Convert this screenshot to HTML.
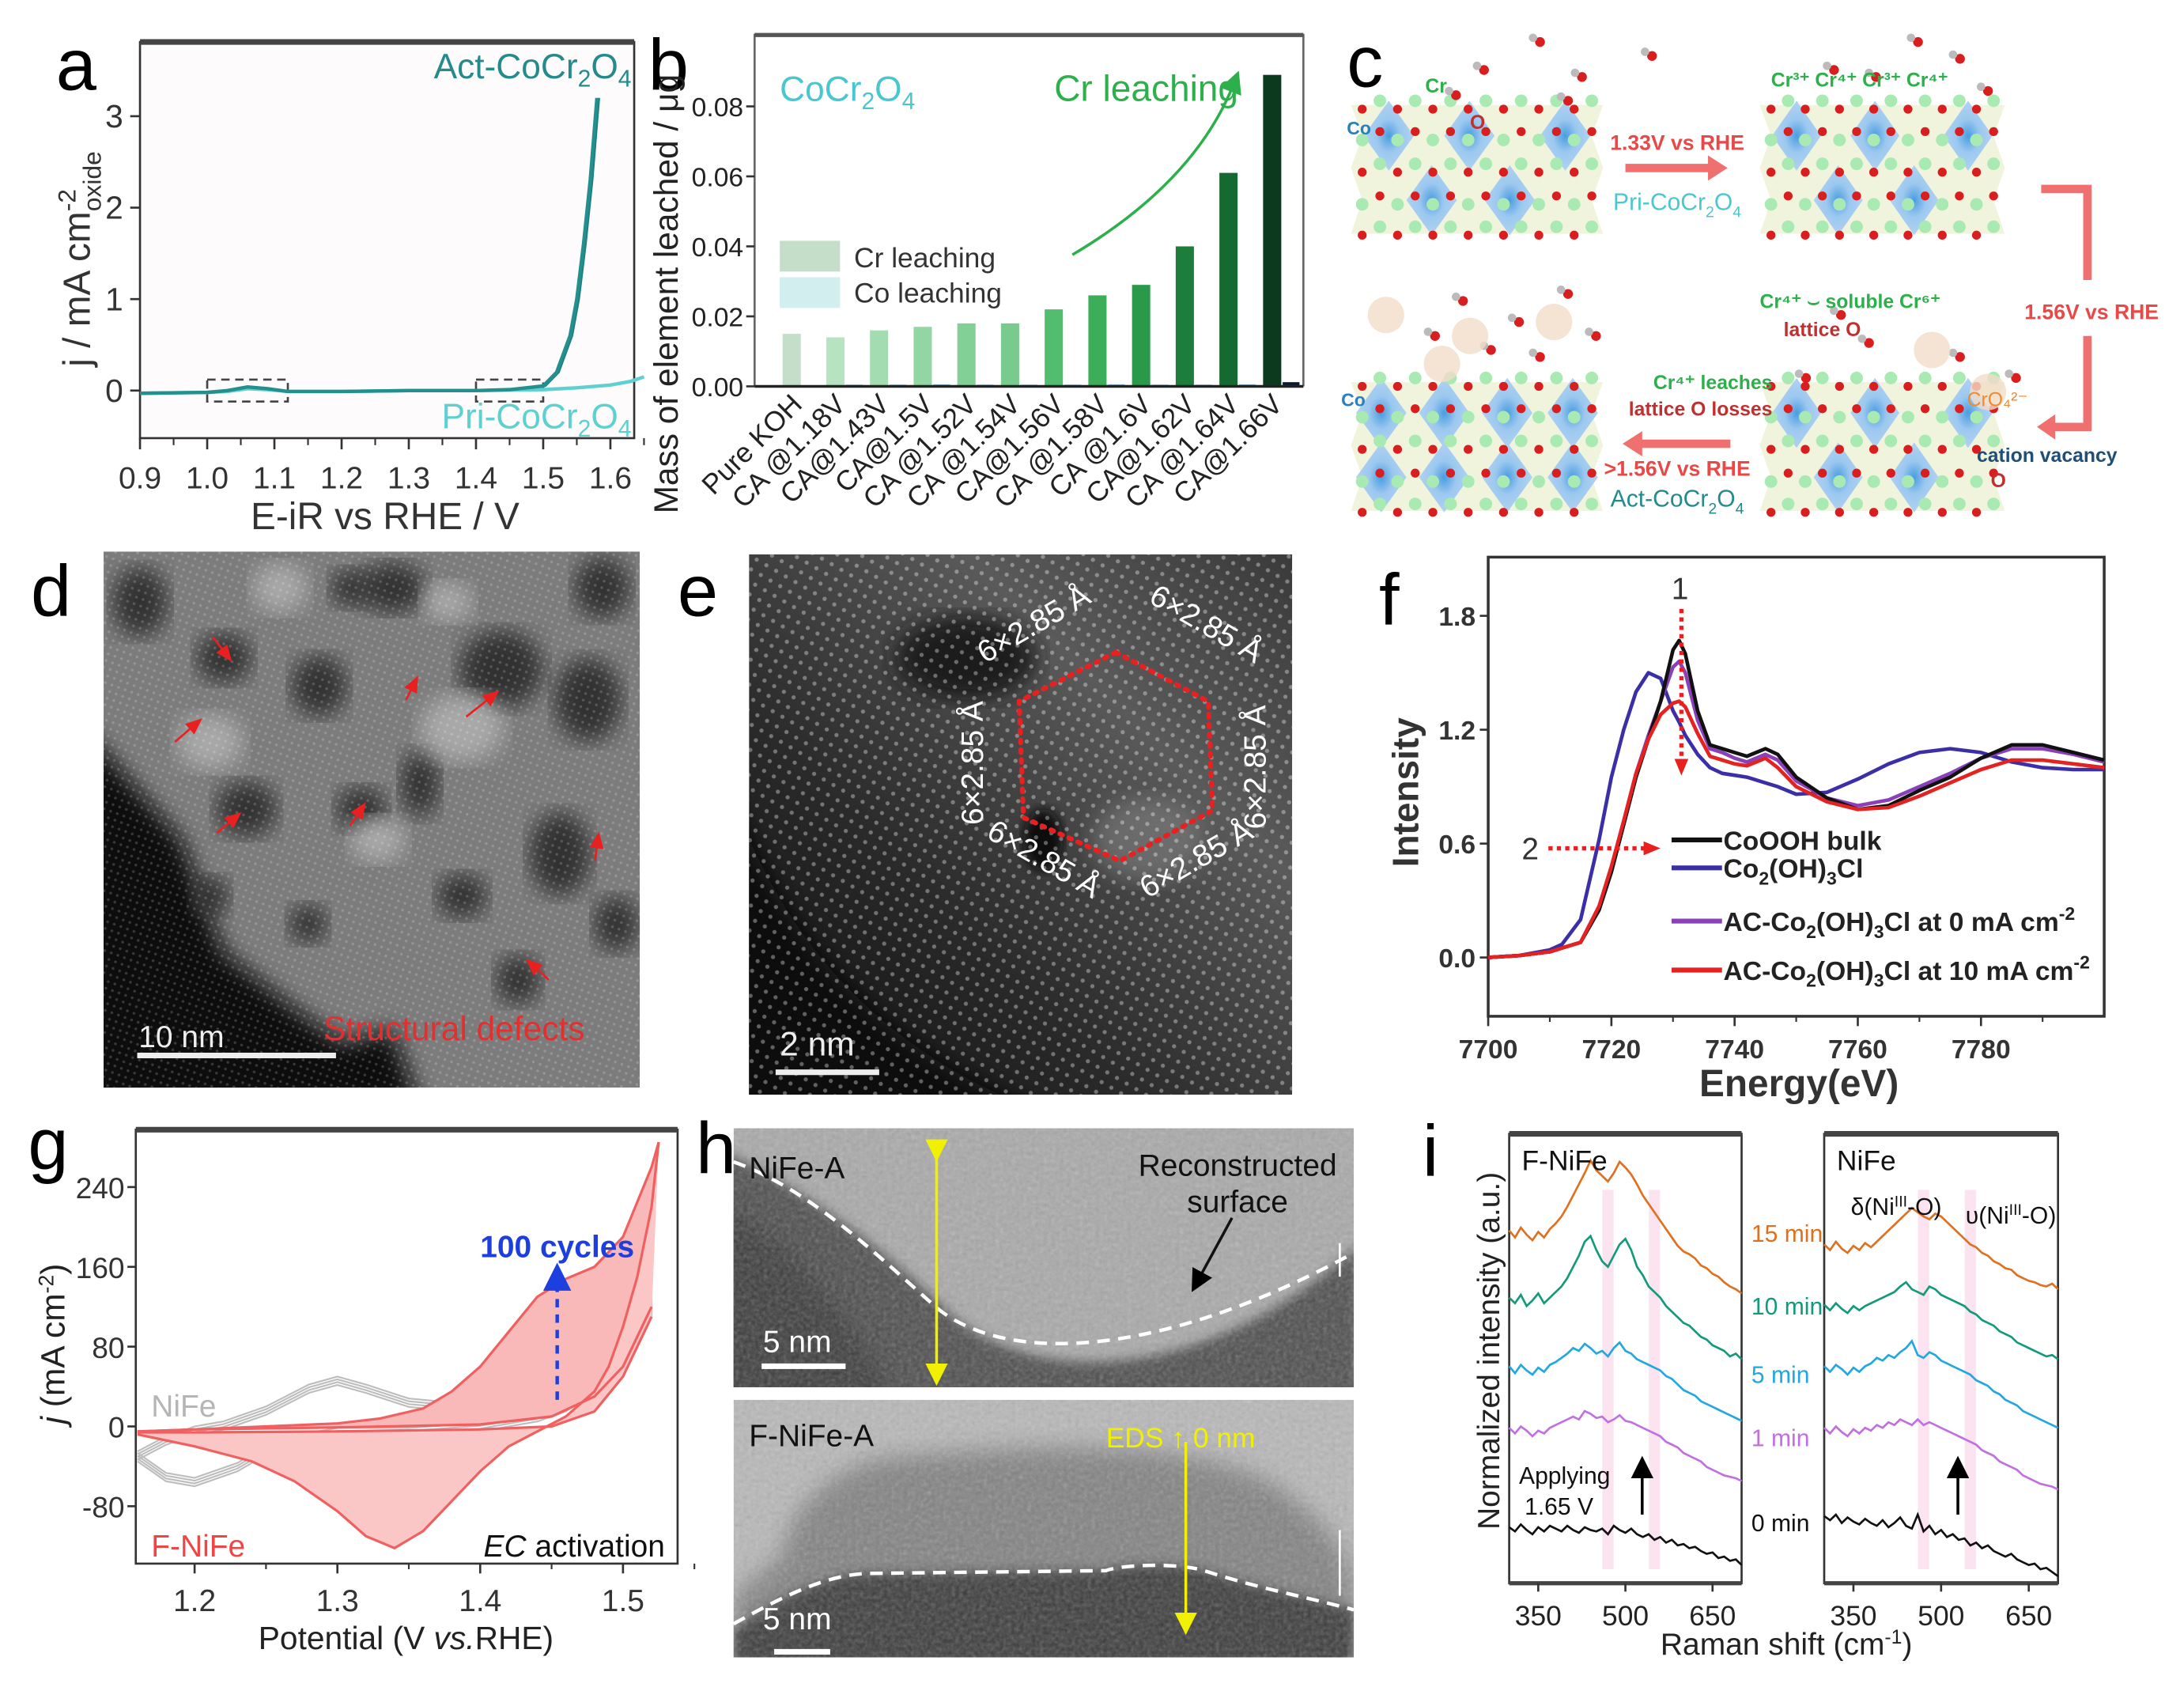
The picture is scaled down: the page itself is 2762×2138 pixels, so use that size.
<!DOCTYPE html>
<html><head><meta charset="utf-8">
<style>
html,body{margin:0;padding:0;background:#fff;}
svg{display:block;font-family:"Liberation Sans",Arial,sans-serif;}
</style></head>
<body>
<svg id="fig" xmlns="http://www.w3.org/2000/svg" width="2762" height="2138" viewBox="0 0 1560 1208" preserveAspectRatio="none">
<defs>
  <pattern id="dots" width="8" height="8" patternUnits="userSpaceOnUse" patternTransform="rotate(30)">
    <circle cx="4" cy="4" r="1.5" fill="#fff" fill-opacity="0.35"/>
  </pattern>
  <pattern id="dotsD" width="5" height="5" patternUnits="userSpaceOnUse" patternTransform="rotate(20)">
    <circle cx="2.5" cy="2.5" r="1.0" fill="#fff" fill-opacity="0.18"/>
  </pattern>
  <filter id="blur8"><feGaussianBlur stdDeviation="8"/></filter>
  <filter id="blur4"><feGaussianBlur stdDeviation="4"/></filter>
  <filter id="noise"><feTurbulence type="fractalNoise" baseFrequency="0.35" numOctaves="2" seed="3"/><feColorMatrix type="saturate" values="0"/><feComponentTransfer><feFuncA type="table" tableValues="0 0.35"/></feComponentTransfer></filter>
  <linearGradient id="eGrad" x1="0" y1="1" x2="1" y2="0">
    <stop offset="0" stop-color="#0c0c0c"/><stop offset="0.35" stop-color="#2a2a2a"/><stop offset="0.7" stop-color="#5a5a5a"/><stop offset="1" stop-color="#3a3a3a"/>
  </linearGradient>
  <radialGradient id="diaG" cx="0.5" cy="0.5" r="0.6">
    <stop offset="0" stop-color="#4a9de0"/><stop offset="0.4" stop-color="#9cc8ef"/><stop offset="1" stop-color="#b8d6f2"/>
  </radialGradient>
  <marker id="arrRed" markerUnits="userSpaceOnUse" markerWidth="12" markerHeight="12" refX="6" refY="6" orient="auto"><path d="M0,1 L12,6 L0,11 z" fill="#e82020"/></marker>
  <marker id="arrBlue" markerWidth="8" markerHeight="8" refX="4" refY="4" orient="auto"><path d="M0,0 L8,4 L0,8 z" fill="#1d3fe0"/></marker>
  <marker id="arrBlack" markerWidth="8" markerHeight="8" refX="4" refY="4" orient="auto"><path d="M0,0 L8,4 L0,8 z" fill="#000"/></marker>
  <marker id="arrYel" markerWidth="8" markerHeight="8" refX="4" refY="4" orient="auto"><path d="M0,0 L8,4 L0,8 z" fill="#f0f000"/></marker>
  <marker id="arrGreen" markerWidth="8" markerHeight="8" refX="4" refY="4" orient="auto"><path d="M0,0 L8,4 L0,8 z" fill="#2db04b"/></marker>
</defs>

<text x="40" y="64" font-size="52">a</text>
<text x="463" y="64" font-size="52">b</text>
<text x="962" y="62" font-size="52">c</text>
<text x="22" y="440" font-size="52">d</text>
<text x="484" y="440" font-size="52">e</text>
<text x="985" y="446" font-size="52">f</text>
<text x="20" y="835" font-size="52">g</text>
<text x="497" y="838" font-size="52">h</text>
<text x="1016" y="840" font-size="52">i</text>

<g id="pa"></g>
<g id="pb"></g>
<g id="pc"></g>
<g id="pd"></g>
<g id="pe"></g>
<g id="pf"></g>
<g id="pg"></g>
<g id="ph"></g>
<g id="pi"></g>
</svg>

<script>
// ---------- Panel a data ----------
const aActX = [0.90,1.00,1.03,1.06,1.09,1.12,1.20,1.30,1.40,1.45,1.50,1.52,1.54,1.55,1.56,1.57,1.58];
const aActY = [-0.03,-0.02,0.00,0.04,0.02,-0.01,-0.01,0.00,0.00,0.01,0.05,0.20,0.60,1.00,1.60,2.30,3.20];
const aPriX = [0.90,1.00,1.03,1.06,1.09,1.12,1.20,1.30,1.40,1.50,1.55,1.60,1.63,1.65];
const aPriY = [-0.03,-0.02,-0.01,0.02,0.01,-0.01,-0.01,0.00,0.00,0.01,0.03,0.06,0.10,0.15];
const aXTicks = [0.9,1.0,1.1,1.2,1.3,1.4,1.5,1.6];
const aYTicks = [0,1,2,3];
// ---------- Panel b data ----------
const bCats = ["Pure KOH","CA @1.18V","CA@1.43V","CA@1.5V","CA @1.52V","CA @1.54V","CA@1.56V","CA @1.58V","CA @1.6V","CA@1.62V","CA @1.64V","CA@1.66V"];
const bCr = [0.015,0.014,0.016,0.017,0.018,0.018,0.022,0.026,0.029,0.040,0.061,0.089];
const bCo = [0.0003,0.0005,0.0005,0.0006,0.0005,0.0005,0.0005,0.0006,0.0005,0.0005,0.0006,0.0012];
const bYTicks = [0,0.02,0.04,0.06,0.08];
const bColors = ['#c5dec9','#b6e3c0','#a2dcb0','#92d6a3','#82d095','#78cb8c','#52bd6e','#3cae5a','#2a9a4a','#1d7d3a','#156a31','#0b3a1e'];
// ---------- Panel f data ----------
const fX = [7700,7705,7710,7712,7715,7718,7720,7722,7724,7726,7728,7730,7731,7732,7734,7736,7738,7740,7742,7745,7747,7750,7755,7760,7765,7770,7775,7780,7785,7790,7795,7800];
const fCoOOH = [0,0.01,0.03,0.05,0.08,0.25,0.45,0.70,0.95,1.15,1.35,1.62,1.67,1.60,1.30,1.12,1.10,1.08,1.06,1.10,1.07,0.95,0.84,0.78,0.80,0.88,0.95,1.05,1.12,1.12,1.08,1.04];
const fCo2 = [0,0.01,0.04,0.07,0.20,0.62,0.95,1.20,1.40,1.50,1.47,1.30,1.24,1.17,1.07,1.00,0.97,0.96,0.95,0.92,0.90,0.86,0.87,0.94,1.02,1.08,1.10,1.08,1.03,1.00,0.99,0.99];
const fAC0 = [0,0.01,0.03,0.05,0.08,0.27,0.47,0.72,0.97,1.17,1.35,1.53,1.56,1.50,1.25,1.10,1.08,1.05,1.03,1.07,1.04,0.93,0.84,0.80,0.83,0.90,0.97,1.05,1.10,1.10,1.07,1.03];
const fAC10 = [0,0.01,0.03,0.05,0.08,0.27,0.48,0.72,0.97,1.15,1.28,1.34,1.35,1.32,1.18,1.06,1.04,1.02,1.01,1.05,1.00,0.90,0.82,0.78,0.79,0.85,0.92,0.99,1.04,1.04,1.02,1.00];
const fXTicks = [7700,7720,7740,7760,7780];
const fYTicks = [0.0,0.6,1.2,1.8];
// ---------- Panel g data ----------
const gNiAX = [1.16,1.18,1.20,1.22,1.25,1.28,1.30,1.32,1.35,1.38,1.40,1.42,1.45,1.48,1.50,1.52];
const gNiAY = [-25,-10,0,5,20,42,50,42,28,24,22,24,32,55,85,125];
const gNiCX = [1.52,1.50,1.48,1.46,1.44,1.40,1.35,1.30,1.26,1.23,1.20,1.18,1.16];
const gNiCY = [110,70,35,15,5,-5,-10,-10,-20,-45,-60,-55,-35];
const gLastAX = [1.16,1.20,1.25,1.30,1.33,1.36,1.38,1.40,1.42,1.44,1.46,1.48,1.50,1.51,1.52,1.525];
const gLastAY = [-5,-3,0,3,8,18,35,60,95,130,148,160,190,225,260,285];
const gLastCX = [1.525,1.52,1.51,1.50,1.49,1.48,1.46,1.44,1.42,1.40,1.38,1.36,1.34,1.32,1.30,1.27,1.24,1.20,1.16];
const gLastCY = [285,220,150,100,60,35,10,-5,-20,-45,-75,-105,-122,-110,-85,-55,-35,-20,-8];
const gFirstAX = [1.16,1.20,1.30,1.40,1.45,1.48,1.50,1.52];
const gFirstAY = [-5,-3,-1,2,10,30,60,120];
const gFirstCX = [1.52,1.50,1.48,1.45,1.40,1.30,1.20,1.16];
const gFirstCY = [110,50,15,0,-3,-5,-6,-6];
const gXTicks = [1.2,1.3,1.4,1.5];
const gYTicks = [240,160,80,0,-80];
// ---------- Panel i data ----------
const iShift = [300,310,320,330,340,350,360,370,380,390,400,410,420,430,440,450,460,470,480,490,500,510,520,530,540,550,560,570,580,590,600,610,620,630,640,650,660,670,680,690,700];
const iF15 = [45,40,47,42,38,44,40,46,50,55,62,70,78,86,95,88,84,80,86,94,90,85,78,70,64,58,52,46,40,34,30,28,25,20,18,14,12,8,5,3,0];
const iF10 = [44,40,46,38,42,47,40,44,48,52,58,66,74,84,88,78,70,66,74,82,86,78,66,60,52,48,44,38,34,30,26,24,20,16,14,10,8,6,2,4,0];
const iF5 = [39,34,40,36,33,38,35,40,42,45,48,52,50,55,52,48,50,46,52,56,50,48,44,42,40,38,36,32,30,26,22,20,18,14,12,10,8,6,4,2,0];
const iF1 = [38,34,39,36,32,36,34,38,40,42,44,46,44,50,48,45,46,42,44,47,43,42,40,38,36,34,32,28,26,24,20,18,16,14,10,8,6,4,3,2,0];
const iF0 = [27,24,29,25,22,27,24,28,26,24,28,25,23,27,25,24,26,22,28,25,23,26,22,20,22,18,20,16,18,14,15,12,13,10,8,9,5,6,3,4,0];
const iN15 = [32,28,34,29,26,31,28,33,30,34,38,42,46,50,54,58,55,52,50,54,52,48,44,40,36,32,30,26,24,20,18,15,14,10,8,6,5,3,2,4,0];
const iN10 = [39,35,40,36,33,38,35,38,40,42,44,46,48,52,55,50,48,46,52,50,46,44,42,40,38,34,32,28,26,24,20,18,16,12,10,8,6,4,2,3,0];
const iN5 = [44,40,45,42,38,43,40,44,46,50,48,52,50,54,57,62,52,50,54,52,48,46,44,42,40,38,34,32,30,26,24,20,18,16,12,10,8,6,4,2,0];
const iN1 = [44,40,45,41,38,43,40,44,42,46,44,48,46,50,48,46,50,46,48,46,44,42,40,38,36,34,32,28,26,24,20,18,16,14,10,8,6,4,3,2,0];
const iN0 = [43,40,44,38,42,39,37,41,38,36,40,35,38,42,36,34,44,32,36,30,33,28,30,26,27,22,24,20,22,18,16,14,16,12,10,8,9,5,6,3,0];
const iTimes = ["15 min","10 min","5 min","1 min","0 min"];
const iXTicks = [350,500,650];

const NS='http://www.w3.org/2000/svg';
function mk(tag, attrs, parent){const e=document.createElementNS(NS,tag);for(const k in attrs)e.setAttribute(k,attrs[k]);parent.appendChild(e);return e;}
function pathD(xs,ys,sx,sy){return xs.map((v,i)=>(i?'L':'M')+sx(v).toFixed(2)+','+sy(ys[i]).toFixed(2)).join(' ');}
function txt(parent,x,y,s,size,attrs){const t=mk('text',Object.assign({x:x,y:y,'font-size':size},attrs||{}),parent);t.textContent=s;return t;}

// ================= Panel a =================
(function(){
const g=document.getElementById('pa');
const L=100,R=453,T=30,B=313;
const ax=v=>L+(v-0.9)*480, ay=v=>279-v*65.33;
let e=mk('rect',{x:L,y:T,width:R-L,height:B-T,fill:'#fdfbfc',stroke:'#333','stroke-width':1.5},g);


e=mk('line',{x1:L,y1:T,x2:R,y2:T,stroke:'#444','stroke-width':4},g);


aXTicks.forEach(v=>{
  const t=mk('line',{x1:ax(v),y1:B,x2:ax(v),y2:B+8,stroke:'#333','stroke-width':1.5},g);
  
  
  const m=mk('line',{x1:ax(v+0.05),y1:B,x2:ax(v+0.05),y2:B+5,stroke:'#333','stroke-width':1.2},g);
  
  
  const l=txt(g,ax(v),B+36,v.toFixed(1),22,{'text-anchor':'middle',fill:'#333'});
  
  
});
aYTicks.forEach(v=>{
  const t=mk('line',{x1:L-7,y1:ay(v),x2:L,y2:ay(v),stroke:'#333','stroke-width':1.5},g);
  
  
  const l=txt(g,L-12,ay(v)+8,String(v),23,{'text-anchor':'end',fill:'#333'});
  
  
});
[[1.0,1.12],[1.4,1.5]].forEach(b=>{
  const r=mk('rect',{x:ax(b[0]),y:ay(0.12),width:ax(b[1])-ax(b[0]),height:ay(-0.12)-ay(0.12),fill:'none',stroke:'#444','stroke-width':1.5,'stroke-dasharray':'6,4'},g);
  
  
});
let p=mk('path',{d:pathD(aPriX,aPriY,ax,ay),fill:'none',stroke:'#5fd0d0','stroke-width':2.5},g);


p=mk('path',{d:pathD(aActX,aActY,v=>ax(v)+1.5,ay),fill:'none',stroke:'#1e7f80','stroke-width':1.5},g);


p=mk('path',{d:pathD(aActX,aActY,ax,ay),fill:'none',stroke:'#248f8f','stroke-width':2.5},g);


let t=txt(g,451,56,'',25,{'text-anchor':'end',fill:'#258a8a'});
t.innerHTML='Act-CoCr<tspan dy="6" font-size="17">2</tspan><tspan dy="-6">O</tspan><tspan dy="6" font-size="17">4</tspan>';


t=txt(g,451,306,'',25,{'text-anchor':'end',fill:'#5fd0d0'});
t.innerHTML='Pri-CoCr<tspan dy="6" font-size="17">2</tspan><tspan dy="-6">O</tspan><tspan dy="6" font-size="17">4</tspan>';


t=txt(g,275,378,'E-iR vs RHE / V',27,{'text-anchor':'middle',fill:'#333'});


t=txt(g,0,0,'',27,{'text-anchor':'middle',fill:'#333',transform:'translate(64,185) rotate(-90)'});
t.innerHTML='j / mA cm<tspan dy="-10" font-size="18">-2</tspan><tspan dx="-16" dy="18" font-size="18">oxide</tspan>';


})();

// ================= Panel b =================
(function(){
const g=document.getElementById('pb');
const L=539,R=931,T=25,B=276;
const bx=i=>566+i*31.2, by=v=>B-v*2500;
let e=mk('path',{d:`M${L},${B} L${L},${T} L${R},${T} L${R},${B}`,fill:'none',stroke:'#666','stroke-width':1.5},g);


e=mk('line',{x1:L,y1:T,x2:R,y2:T,stroke:'#555','stroke-width':3},g);


bCr.forEach((v,i)=>{
  const r=mk('rect',{x:bx(i)-7,y:by(v),width:13,height:B-by(v),fill:bColors[i]},g);
  
  
  const c=mk('rect',{x:bx(i)+7,y:by(bCo[i]),width:12,height:Math.max(1,B-by(bCo[i])),fill:i==11?'#0b1a30':'#8fb8d8'},g);
  
  
  const l=txt(g,0,0,bCats[i],20,{'text-anchor':'end',fill:'#222',transform:`translate(${bx(i)+8},${B+14}) rotate(-45)`});
  
  
});
e=mk('line',{x1:L,y1:B,x2:R,y2:B,stroke:'#222','stroke-width':2},g);


bYTicks.forEach(v=>{
  const t=mk('line',{x1:L-6,y1:by(v),x2:L,y2:by(v),stroke:'#333','stroke-width':1.5},g);
  
  
  const l=txt(g,L-8,by(v)+7,v.toFixed(2),19,{'text-anchor':'end',fill:'#222'});
  
  
});
let t=txt(g,0,0,'Mass of element leached / μg',24,{'text-anchor':'middle',fill:'#222',transform:'translate(484,210) rotate(-90)'});


t=txt(g,557,72,'',25,{fill:'#49c6cf'});
t.innerHTML='CoCr<tspan dy="6" font-size="17">2</tspan><tspan dy="-6">O</tspan><tspan dy="6" font-size="17">4</tspan>';


t=txt(g,753,72,'Cr leaching',26,{fill:'#2db04b'});


e=mk('path',{d:'M766,182 C820,150 862,110 882,58',fill:'none',stroke:'#2db04b','stroke-width':2,'marker-end':'url(#arrGreen)'},g);


e=mk('rect',{x:557,y:172,width:43,height:22,fill:'#c5dec9'},g);


e=mk('rect',{x:557,y:198,width:43,height:22,fill:'#d2eeee'},g);


t=txt(g,610,191,'Cr leaching',20,{fill:'#333'});


t=txt(g,610,216,'Co leaching',20,{fill:'#333'});


})();

// ================= Panel c (schematic) =================
(function(){
const g=document.getElementById('pc');
function block(x,y,w,h,topDia,botDia,name){
  const b=mk('g',{},g);
  
  
  const zz=`M${x},${y+h*0.05} L${x+w},${y+h*0.05} L${x+w-8},${y+h*0.27} L${x+w},${y+h*0.5} L${x+w-8},${y+h*0.73} L${x+w},${y+h*0.97} L${x},${y+h*0.97} L${x+8},${y+h*0.73} L${x},${y+h*0.5} L${x+8},${y+h*0.27} Z`;
  mk('path',{d:zz,fill:'#f1f4dc'},b);
  const dw=w*0.2, dh=h*0.5;
  topDia.forEach(f=>{const cx=x+w*f,cy=y+h*0.27;mk('path',{d:`M${cx},${cy-dh/2} L${cx+dw/2},${cy} L${cx},${cy+dh/2} L${cx-dw/2},${cy} Z`,fill:'url(#diaG)'},b);});
  botDia.forEach(f=>{const cx=x+w*f,cy=y+h*0.73;mk('path',{d:`M${cx},${cy-dh/2} L${cx+dw/2},${cy} L${cx},${cy+dh/2} L${cx-dw/2},${cy} Z`,fill:'url(#diaG)'},b);});
  [0.05,0.27,0.5,0.73,0.95].forEach((ry,ri)=>{
    for(let k=0;k<14;k++){
      const cx=x+8+k*(w-16)/13, cy=y+h*ry+((k%2)?-3:3);
      if((k+ri)%2) mk('circle',{cx:cx,cy:cy,r:4.5,fill:'#a9e9b2'},b);
      else mk('circle',{cx:cx,cy:cy,r:3.2,fill:'#d81e1e'},b);
    }
  });
  return b;
}
block(965,70,180,100,[0.15,0.47,0.85],[0.32,0.63],'crystal-pristine');
block(1257,70,175,100,[0.15,0.47,0.85],[0.32,0.63],'crystal-intermediate');
block(965,268,180,100,[0.12,0.37,0.62,0.88],[0.12,0.37,0.62,0.88],'crystal-activated');
block(1257,268,175,100,[0.15,0.47,0.85],[0.32,0.63],'crystal-leaching');
const mol=[[1100,30],[1130,55],[1060,50],[1040,68],[1120,72],[1180,40],[1370,30],[1400,42],[1340,55],[1420,65],[1310,50],[1045,215],[1085,230],[1120,210],[1025,240],[1065,250],[1100,255],[1140,240],[1335,245],[1290,270],[1400,255],[1440,270],[1315,225]];
mol.forEach(m=>{
  const c=mk('g',{},g);
  
  
  mk('circle',{cx:m[0],cy:m[1],r:3.5,fill:'#d81e1e'},c);
  mk('circle',{cx:m[0]-5,cy:m[1]-3,r:3,fill:'#bbb'},c);
});
[[990,225],[1050,240],[1110,230],[1030,260],[1380,250],[1420,280]].forEach(m=>{
  const c=mk('circle',{cx:m[0],cy:m[1],r:13,fill:'#f3dcc8',opacity:0.8},g);
  
  
});
let e=mk('path',{d:'M1161,120 L1222,120',fill:'none',stroke:'#f07070','stroke-width':6},g);


e=mk('path',{d:'M1220,111 L1234,120 L1220,129 Z',fill:'#f07070'},g);


e=mk('path',{d:'M1458,135 L1491,135 L1491,200 M1491,240 L1491,305 L1466,305',fill:'none',stroke:'#f07070','stroke-width':6},g);


e=mk('path',{d:'M1468,296 L1455,305 L1468,314 Z',fill:'#f07070'},g);


e=mk('path',{d:'M1236,317 L1172,317',fill:'none',stroke:'#f07070','stroke-width':6},g);


e=mk('path',{d:'M1173,308 L1159,317 L1173,326 Z',fill:'#f07070'},g);


const labels=[
 [1198,107,'1.33V vs RHE',15,'#e84848','bold','middle','label-133v'],
 [1494,228,'1.56V vs RHE',15,'#e84848','bold','middle','label-156v'],
 [1198,340,'>1.56V vs RHE',15,'#e84848','bold','middle','label-gt156v'],
 [1266,278,'Cr⁴⁺ leaches',14,'#2db04b','bold','end','label-cr-leaches'],
 [1266,297,'lattice O losses',14,'#c03030','bold','end','label-lattice-o-losses'],
 [1257,220,'Cr⁴⁺ ⌣ soluble Cr⁶⁺',14,'#2db04b','bold','start','label-soluble-cr'],
 [1274,240,'lattice O',14,'#c03030','bold','start','label-lattice-o'],
 [1412,330,'cation vacancy',14,'#1f4e79','bold','start','label-cation-vacancy'],
 [1422,348,'O',14,'#c03030','bold','start','label-ovac'],
 [1405,290,'CrO₄²⁻',14,'#f08a30','normal','start','label-cro4'],
 [1265,62,'Cr³⁺ Cr⁴⁺ Cr³⁺ Cr⁴⁺',14,'#2db04b','bold','start','label-cr-oxidation'],
 [1018,66,'Cr',14,'#2db04b','bold','start','label-cr-oh'],
 [1050,92,'O',14,'#c03030','bold','start','label-o'],
 [962,96,'Co',13,'#2a7fc0','bold','start','label-co-td'],
 [958,290,'Co',13,'#2a7fc0','bold','start','label-co-oh']
];
labels.forEach(l=>{
  const t=txt(g,l[0],l[1],l[2],l[3],{fill:l[4],'font-weight':l[5],'text-anchor':l[6]});
  
  
});
let t=txt(g,1198,150,'',17,{fill:'#4cc7cf','text-anchor':'middle'});
t.innerHTML='Pri-CoCr<tspan dy="5" font-size="11">2</tspan><tspan dy="-5">O</tspan><tspan dy="5" font-size="11">4</tspan>';


t=txt(g,1198,362,'',17,{fill:'#258a8a','text-anchor':'middle'});
t.innerHTML='Act-CoCr<tspan dy="5" font-size="11">2</tspan><tspan dy="-5">O</tspan><tspan dy="5" font-size="11">4</tspan>';


})();

// ================= Panel d =================
(function(){
const g=document.getElementById('pd');
const cp=mk('clipPath',{id:'clipD'},g);mk('rect',{x:74,y:394,width:383,height:383},cp);
const c=mk('g',{'clip-path':'url(#clipD)'},g);


mk('rect',{x:74,y:394,width:383,height:383,fill:'#7c7c7c'},c);
mk('path',{d:'M60,520 L130,600 L160,680 L210,720 L245,745 L280,735 L300,790 L60,790 Z',fill:'#0e0e0e',filter:'url(#blur8)'},c);
[[160,470,20,18],[228,490,20,22],[358,478,30,28],[176,578,22,20],[258,578,18,16],[300,560,14,24],[420,500,24,30],[400,610,22,30],[440,660,16,20],[330,640,18,16],[150,640,14,14],[100,430,20,25],[280,420,24,18],[430,420,20,22],[370,700,16,18],[220,660,14,14],[250,420,14,14]].forEach(h=>{
  mk('ellipse',{cx:h[0],cy:h[1],rx:h[2],ry:h[3],fill:'#333',filter:'url(#blur8)'},c);
});
[[330,520,30,24],[150,530,24,20],[270,600,20,16],[200,420,20,18],[320,430,18,14]].forEach(h=>{
  mk('ellipse',{cx:h[0],cy:h[1],rx:h[2],ry:h[3],fill:'#a8a8a8',filter:'url(#blur8)'},c);
});
mk('rect',{x:74,y:394,width:383,height:383,fill:'url(#dotsD)'},c);
[[152,455,162,468],[290,500,296,488],[333,512,352,497],[125,530,140,517],[155,595,168,584],[250,590,258,578],[425,615,427,600],[392,700,380,689]].forEach(a=>{
  const e=mk('line',{x1:a[0],y1:a[1],x2:a[2],y2:a[3],stroke:'#e82020','stroke-width':1.5,'marker-end':'url(#arrRed)'},g);
  
  
});
let e=mk('rect',{x:98,y:752,width:142,height:4,fill:'#eee'},g);


let t=txt(g,99,748,'10  nm',22,{fill:'#eee'});


t=txt(g,231,743,'Structural defects',24,{fill:'#e03030'});


})();

// ================= Panel e =================
(function(){
const g=document.getElementById('pe');
const cp=mk('clipPath',{id:'clipE'},g);mk('rect',{x:535,y:396,width:388,height:386},cp);
const c=mk('g',{'clip-path':'url(#clipE)'},g);


mk('rect',{x:535,y:396,width:388,height:386,fill:'url(#eGrad)'},c);
mk('path',{d:'M520,560 C560,680 640,760 760,800 L520,800 Z',fill:'#080808',filter:'url(#blur8)'},c);
mk('ellipse',{cx:690,cy:470,rx:50,ry:30,fill:'#1a1a1a',filter:'url(#blur8)'},c);
mk('ellipse',{cx:745,cy:600,rx:14,ry:22,fill:'#111',filter:'url(#blur4)'},c);
mk('ellipse',{cx:820,cy:600,rx:40,ry:30,fill:'#8a8a8a',opacity:0.5,filter:'url(#blur8)'},c);
mk('rect',{x:535,y:396,width:388,height:386,fill:'url(#dots)'},c);
let e=mk('polygon',{points:'797,466 863,501 866,579 800,615 731,584 728,501',fill:'none',stroke:'#e82020','stroke-width':3.5,'stroke-dasharray':'2,5','stroke-linecap':'round'},g);


[[742,452,-30],[858,452,30],[702,545,-90],[904,548,-90],[742,620,30],[858,620,-30]].forEach(p=>{
  const t=txt(g,0,0,'6×2.85 Å',22,{fill:'#fff','text-anchor':'middle',transform:`translate(${p[0]},${p[1]}) rotate(${p[2]})`});
  
  
});
e=mk('rect',{x:554,y:764,width:74,height:4,fill:'#eee'},g);


let t=txt(g,557,754,'2 nm',24,{fill:'#eee'});


})();

// ================= Panel f =================
(function(){
const g=document.getElementById('pf');
const L=1063,R=1503,T=398,B=726;
const fx=v=>L+(v-7700)*4.4, fy=v=>684-v*135.6;
let e=mk('rect',{x:L,y:T,width:R-L,height:B-T,fill:'#fff',stroke:'#333','stroke-width':2},g);


fXTicks.forEach(v=>{
  const t=mk('line',{x1:fx(v),y1:B,x2:fx(v),y2:B+7,stroke:'#333','stroke-width':1.5},g);
  
  
  const m=mk('line',{x1:fx(v+10),y1:B,x2:fx(v+10),y2:B+4,stroke:'#333','stroke-width':1.2},g);
  
  
  const l=txt(g,fx(v),B+30,String(v),19,{'text-anchor':'middle',fill:'#333','font-weight':'bold'});
  
  
});
fYTicks.forEach(v=>{
  const t=mk('line',{x1:L-6,y1:fy(v),x2:L,y2:fy(v),stroke:'#333','stroke-width':1.5},g);
  
  
  const l=txt(g,L-9,fy(v)+7,v.toFixed(1),19,{'text-anchor':'end',fill:'#333','font-weight':'bold'});
  
  
});
const series=[[fCo2,'#3b2fa8','co2oh3cl-curve'],[fAC0,'#8a40b8','ac-0ma-curve'],[fCoOOH,'#111','cooh-bulk-curve'],[fAC10,'#e52222','ac-10ma-curve']];
series.forEach(s=>{
  const p=mk('path',{d:pathD(fX,s[0],fx,fy),fill:'none',stroke:s[1],'stroke-width':2.6,'stroke-linejoin':'round'},g);
  
  
});
e=mk('line',{x1:1201,y1:435,x2:1201,y2:548,stroke:'#e82020','stroke-width':3,'stroke-dasharray':'3,3','marker-end':'url(#arrRed)'},g);


e=mk('line',{x1:1106,y1:606,x2:1180,y2:606,stroke:'#e82020','stroke-width':3,'stroke-dasharray':'3,3','marker-end':'url(#arrRed)'},g);


let t=txt(g,1200,428,'1',22,{'text-anchor':'middle',fill:'#333'});


t=txt(g,1093,614,'2',22,{'text-anchor':'middle',fill:'#333'});


const leg=[[600,'#111','CoOOH bulk','legend-entry-cooh'],[620,'#3b2fa8','Co<tspan dy="5" font-size="13">2</tspan><tspan dy="-5">(OH)</tspan><tspan dy="5" font-size="13">3</tspan><tspan dy="-5">Cl</tspan>','legend-entry-co2oh3cl'],[658,'#8a40b8','AC-Co<tspan dy="5" font-size="13">2</tspan><tspan dy="-5">(OH)</tspan><tspan dy="5" font-size="13">3</tspan><tspan dy="-5">Cl at  0 mA cm</tspan><tspan dy="-8" font-size="13">-2</tspan>','legend-entry-ac0'],[693,'#e52222','AC-Co<tspan dy="5" font-size="13">2</tspan><tspan dy="-5">(OH)</tspan><tspan dy="5" font-size="13">3</tspan><tspan dy="-5">Cl at 10 mA cm</tspan><tspan dy="-8" font-size="13">-2</tspan>','legend-entry-ac10']];
leg.forEach(l=>{
  const ln=mk('line',{x1:1194,y1:l[0],x2:1230,y2:l[0],stroke:l[1],'stroke-width':3.5},g);
  
  
  const tt=txt(g,1231,l[0]+7,'',19,{fill:'#222','font-weight':'bold'});
  tt.innerHTML=l[2];
  
  
});
t=txt(g,1285,783,'Energy(eV)',27,{'text-anchor':'middle',fill:'#333','font-weight':'bold'});


t=txt(g,0,0,'Intensity',26,{'text-anchor':'middle',fill:'#333','font-weight':'bold',transform:'translate(1013,566) rotate(-90)'});


})();

// ================= Panel g =================
(function(){
const g=document.getElementById('pg');
const L=97,R=484,T=807,B=1117;
const gx=v=>139+(v-1.2)*1020, gy=v=>1019-v*0.7125;
let e=mk('rect',{x:L,y:T,width:R-L,height:B-T,fill:'#fff',stroke:'#333','stroke-width':1.5},g);


e=mk('line',{x1:L,y1:T,x2:R,y2:T,stroke:'#444','stroke-width':4},g);


gXTicks.forEach(v=>{
  const t=mk('line',{x1:gx(v),y1:B,x2:gx(v),y2:B+7,stroke:'#333','stroke-width':1.5},g);
  
  
  const m=mk('line',{x1:gx(v+0.05),y1:B,x2:gx(v+0.05),y2:B+4,stroke:'#333','stroke-width':1.2},g);
  
  
  const l=txt(g,gx(v),B+34,v.toFixed(1),22,{'text-anchor':'middle',fill:'#333'});
  
  
});
gYTicks.forEach(v=>{
  const t=mk('line',{x1:L-6,y1:gy(v),x2:L,y2:gy(v),stroke:'#333','stroke-width':1.5},g);
  
  
  const l=txt(g,L-8,gy(v)+8,String(v),21,{'text-anchor':'end',fill:'#333'});
  
  
});
for(let k=0;k<4;k++){
  const p=mk('path',{d:pathD(gNiAX,gNiAY,gx,v=>gy(v)+k*2)+' '+pathD(gNiCX,gNiCY,gx,v=>gy(v)-k*2).replace('M','L'),fill:'none',stroke:'#bdbdbd','stroke-width':1.2},g);
  
  
}
const upper=pathD(gLastAX,gLastAY,gx,gy)+' '+pathD(gFirstAX.slice().reverse(),gFirstAY.slice().reverse(),gx,gy).replace('M','L')+' Z';
const lower=pathD(gFirstCX,gFirstCY,gx,gy)+' '+pathD(gLastCX.slice().reverse(),gLastCY.slice().reverse(),gx,gy).replace('M','L')+' Z';
e=mk('path',{d:upper,fill:'#f9b9b9',stroke:'none'},g);


e=mk('path',{d:lower,fill:'#fbc6c6',stroke:'none'},g);


[[gLastAX,gLastAY,'fnife-last-anodic'],[gLastCX,gLastCY,'fnife-last-cathodic'],[gFirstAX,gFirstAY,'fnife-first-anodic'],[gFirstCX,gFirstCY,'fnife-first-cathodic']].forEach(s=>{
  const p=mk('path',{d:pathD(s[0],s[1],gx,gy),fill:'none',stroke:'#f06060','stroke-width':1.8},g);
  
  
});
e=mk('line',{x1:398,y1:1000,x2:398,y2:912,stroke:'#1d3fe0','stroke-width':2.5,'stroke-dasharray':'6,5','marker-end':'url(#arrBlue)'},g);


let t=txt(g,398,898,'100 cycles',22,{'text-anchor':'middle',fill:'#1d3fe0','font-weight':'bold'});


t=txt(g,108,1012,'NiFe',22,{fill:'#b5b5b5'});


t=txt(g,108,1112,'F-NiFe',22,{fill:'#f04545'});


t=txt(g,475,1112,'',22,{fill:'#111','text-anchor':'end'});
t.innerHTML='<tspan font-style="italic">EC</tspan> activation';


t=txt(g,290,1178,'',23,{fill:'#222','text-anchor':'middle'});
t.innerHTML='Potential (V <tspan font-style="italic">vs.</tspan>RHE)';


t=txt(g,0,0,'',24,{fill:'#222','text-anchor':'middle',transform:'translate(46,960) rotate(-90)'});
t.innerHTML='<tspan font-style="italic">j</tspan> (mA cm<tspan dy="-8" font-size="15">-2</tspan><tspan dy="8">)</tspan>';


})();

// ================= Panel h =================
(function(){
const g=document.getElementById('ph');
const c1=mk('clipPath',{id:'clipH1'},g);mk('rect',{x:524,y:806,width:443,height:185},c1);
const c2=mk('clipPath',{id:'clipH2'},g);mk('rect',{x:524,y:1000,width:443,height:184},c2);
const top=mk('g',{'clip-path':'url(#clipH1)'},g);


mk('rect',{x:524,y:806,width:443,height:185,fill:'#a9a9a9'},top);
mk('path',{d:'M510,820 C580,850 640,900 680,940 C740,990 860,990 970,890 L970,1000 L510,1000 Z',fill:'#4d4d4d',filter:'url(#blur4)'},top);
mk('path',{d:'M510,860 C560,880 600,930 640,1000 L510,1000 Z',fill:'#3a3a3a',filter:'url(#blur8)'},top);
mk('rect',{x:524,y:806,width:443,height:185,filter:'url(#noise)'},top);
let e=mk('path',{d:'M524,830 C580,850 630,900 670,935 C720,975 830,970 967,895',fill:'none',stroke:'#fff','stroke-width':2.5,'stroke-dasharray':'9,6'},g);


const bot=mk('g',{'clip-path':'url(#clipH2)'},g);


mk('rect',{x:524,y:1000,width:443,height:184,fill:'#b8b8b8'},bot);
mk('path',{d:'M560,1110 C560,1080 600,1040 650,1040 C760,1030 850,1030 910,1060 C950,1090 967,1110 967,1140 L967,1184 L524,1184 L524,1140 Z',fill:'#828282',filter:'url(#blur8)'},bot);
mk('path',{d:'M524,1165 C560,1140 590,1125 620,1124 L790,1122 C800,1118 840,1116 860,1122 C900,1135 930,1140 967,1150 L967,1190 L524,1190 Z',fill:'#3a3a3a',filter:'url(#blur4)'},bot);
mk('rect',{x:524,y:1000,width:443,height:184,filter:'url(#noise)'},bot);
e=mk('path',{d:'M524,1160 C560,1140 590,1125 620,1124 L790,1122 C800,1118 840,1116 860,1122 C900,1135 930,1140 967,1150',fill:'none',stroke:'#fff','stroke-width':2.5,'stroke-dasharray':'9,6'},g);


e=mk('line',{x1:669,y1:822,x2:669,y2:982,stroke:'#f0f000','stroke-width':2,'marker-end':'url(#arrYel)','marker-start':'url(#arrYel)'},g);


e=mk('line',{x1:847,y1:1030,x2:847,y2:1160,stroke:'#f0f000','stroke-width':2,'marker-end':'url(#arrYel)'},g);


e=mk('line',{x1:957,y1:888,x2:957,y2:912,stroke:'#fff','stroke-width':1.5},g);


e=mk('line',{x1:957,y1:1093,x2:957,y2:1140,stroke:'#fff','stroke-width':1.5},g);


e=mk('line',{x1:880,y1:870,x2:855,y2:916,stroke:'#111','stroke-width':2,'marker-end':'url(#arrBlack)'},g);


let t=txt(g,535,842,'NiFe-A',22,{fill:'#111'});


t=txt(g,884,840,'Reconstructed',22,{fill:'#111','text-anchor':'middle'});


t=txt(g,884,866,'surface',22,{fill:'#111','text-anchor':'middle'});


t=txt(g,545,966,'5 nm',22,{fill:'#fff'});


e=mk('rect',{x:544,y:974,width:60,height:4,fill:'#fff'},g);


t=txt(g,535,1033,'F-NiFe-A',22,{fill:'#111'});


t=txt(g,790,1034,'EDS ↑ 0 nm',20,{fill:'#f0f000'});


t=txt(g,545,1164,'5 nm',22,{fill:'#fff'});


e=mk('rect',{x:553,y:1178,width:40,height:4,fill:'#fff'},g);


})();

// ================= Panel i =================
(function(){
const g=document.getElementById('pi');
const T=810,B=1131;
const frames=[[1078,1244,'F-NiFe',[iF15,iF10,iF5,iF1,iF0],'fnife'],[1303,1470,'NiFe',[iN15,iN10,iN5,iN1,iN0],'nife']];
const baseF=[924,971,1015,1058,1118], baseN=[921,971,1020,1064,1126];
const cols=['#e07020','#129a7a','#22a8e0','#c070e0','#111'];
frames.forEach((fr,fi)=>{
  const L=fr[0],R=fr[1];
  const ix=v=>L+(v-300)/400*(R-L);
  [470,550].forEach(b=>{
    const r=mk('rect',{x:ix(b)-4,y:T+40,width:8,height:B-T-50,fill:'#fbe3f0'},g);
    
    
  });
  let e=mk('rect',{x:L,y:T,width:R-L,height:B-T,fill:'none',stroke:'#333','stroke-width':1.5},g);
  
  
  e=mk('line',{x1:L,y1:T,x2:R,y2:T,stroke:'#444','stroke-width':4},g);
  
  
  e=mk('line',{x1:L,y1:B,x2:R,y2:B,stroke:'#444','stroke-width':3},g);
  
  
  iXTicks.forEach(v=>{
    const t=mk('line',{x1:ix(v),y1:B,x2:ix(v),y2:B+6,stroke:'#333','stroke-width':1.5},g);
    
    
    const l=txt(g,ix(v),B+30,String(v),20,{'text-anchor':'middle',fill:'#222'});
    
    
  });
  const base=fi?baseN:baseF;
  fr[3].forEach((arr,k)=>{
    const p=mk('path',{d:pathD(iShift,arr,ix,v=>base[k]-v),fill:'none',stroke:cols[k],'stroke-width':1.5},g);
    
    
  });
  const t=txt(g,L+9,T+26,fr[2],20,{fill:'#111'});
  
  
  e=mk('line',{x1:ix(500)+12,y1:1082,x2:ix(500)+12,y2:1048,stroke:'#000','stroke-width':2,'marker-end':'url(#arrBlack)'},g);
  
  
});
const ty=[887,939,988,1033,1094];
iTimes.forEach((s,k)=>{
  const t=txt(g,1251,ty[k],s,17,{fill:cols[k]});
  
  
});
let t=txt(g,1085,1060,'Applying',17,{fill:'#111'});


t=txt(g,1089,1082,'1.65 V',17,{fill:'#111'});


t=txt(g,1322,868,'',17,{fill:'#111'});
t.innerHTML='δ(Ni<tspan dy="-6" font-size="11">III</tspan><tspan dy="6">-O)</tspan>';


t=txt(g,1404,874,'',17,{fill:'#111'});
t.innerHTML='υ(Ni<tspan dy="-6" font-size="11">III</tspan><tspan dy="6">-O)</tspan>';


t=txt(g,1276,1182,'',22,{fill:'#222','text-anchor':'middle'});
t.innerHTML='Raman shift (cm<tspan dy="-8" font-size="14">-1</tspan><tspan dy="8">)</tspan>';


t=txt(g,0,0,'Normalized intensity (a.u.)',22,{fill:'#222','text-anchor':'middle',transform:'translate(1071,965) rotate(-90)'});


})();
</script>
</body></html>
